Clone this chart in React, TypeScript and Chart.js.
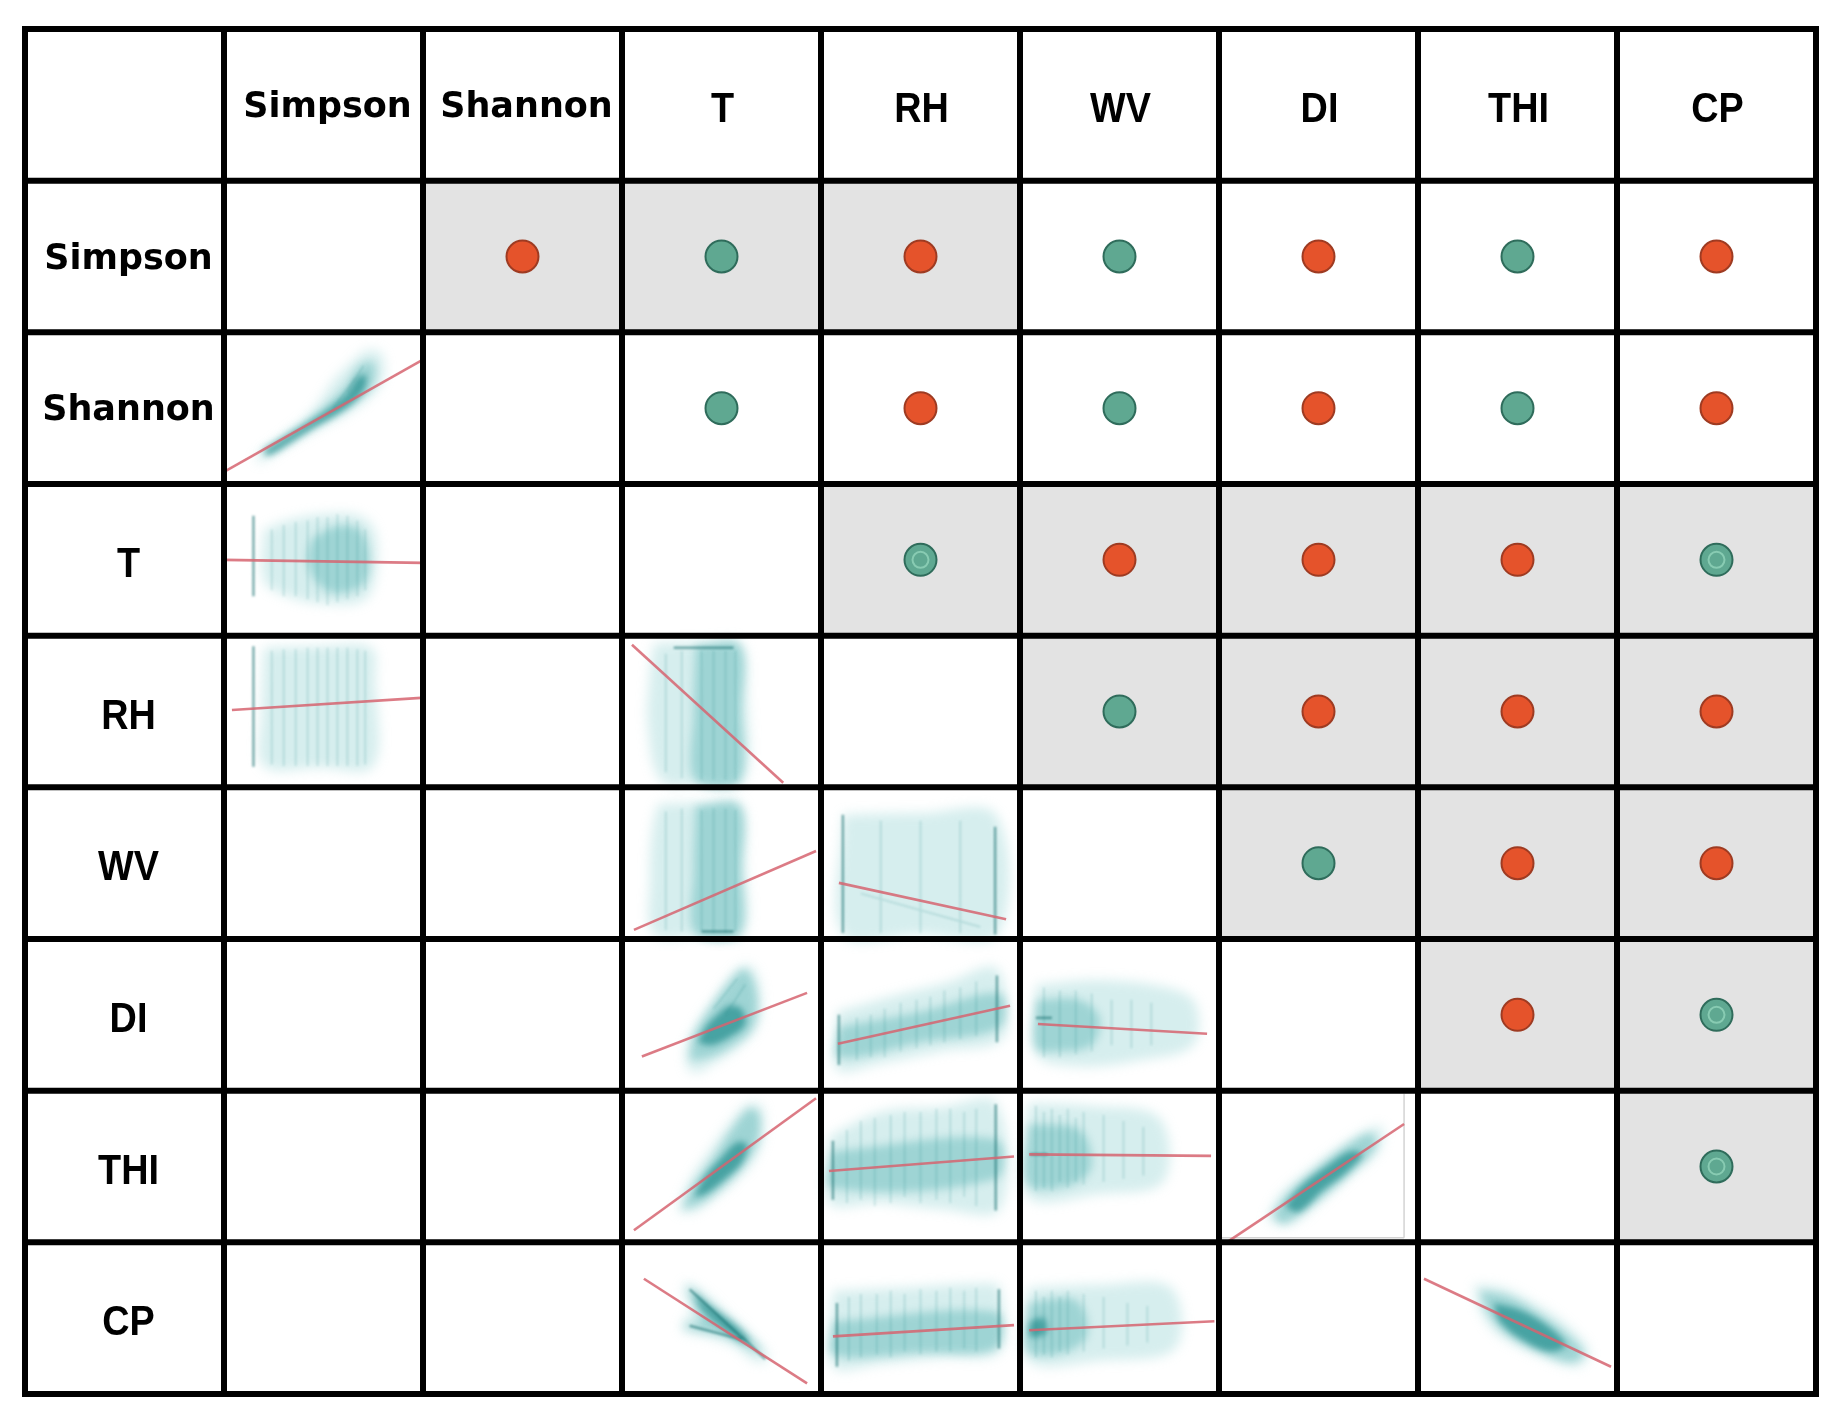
import React, { useEffect, useRef } from "react";
import { Chart, registerables } from "chart.js";

// ---------- data ----------
const VARIABLES = ["Simpson", "Shannon", "T", "RH", "WV", "DI", "THI", "CP"];

// Upper triangle: sign of the correlation (+1 = orange, -1 = teal), row i vs columns i+1..7
const SIGN_ROWS = [
  [1, -1, 1, -1, 1, -1, 1],
  [-1, 1, -1, 1, -1, 1],
  [-1, 1, 1, 1, -1],
  [-1, 1, 1, 1],
  [-1, 1, 1],
  [1, -1],
  [-1],
];

// Upper triangle: shaded (significant) cells, same layout as SIGN_ROWS
const SIGNIFICANT_ROWS = [
  [1, 1, 1, 0, 0, 0, 0],
  [0, 0, 0, 0, 0, 0],
  [1, 1, 1, 1, 1],
  [1, 1, 1, 1],
  [1, 1, 1],
  [1, 1],
  [1],
];

// Dots drawn with an inner ring
const RINGED_PAIRS = [
  ["T", "RH"],
  ["T", "CP"],
  ["DI", "CP"],
  ["THI", "CP"],
];

// Lower triangle scatter panels, local cell coordinates (u across, v down, 0..1)
const P_SHANNON_SIMPSON = {
  row: "Shannon", col: "Simpson",
  fit: [[0, 0.92], [1, 0.18]],
  haze: [[0.16, 0.82], [0.26, 0.72], [0.4, 0.58], [0.48, 0.46], [0.55, 0.32], [0.64, 0.2], [0.72, 0.12], [0.79, 0.14], [0.8, 0.3], [0.72, 0.44], [0.6, 0.55], [0.45, 0.65], [0.3, 0.76], [0.18, 0.86]],
  body: [[0.18, 0.79], [0.32, 0.67], [0.44, 0.56], [0.54, 0.45], [0.62, 0.34], [0.68, 0.22], [0.75, 0.2], [0.75, 0.34], [0.66, 0.46], [0.54, 0.56], [0.4, 0.67], [0.24, 0.8]],
  core: [[0.2, 0.78], [0.32, 0.68], [0.44, 0.58], [0.54, 0.49], [0.62, 0.4], [0.67, 0.3], [0.71, 0.28], [0.71, 0.36], [0.66, 0.45], [0.58, 0.53], [0.46, 0.62], [0.34, 0.72], [0.22, 0.81]],
  marks: [],
  streaks: [[0.62, 0.4, 0.7, 0.22], [0.55, 0.5, 0.66, 0.3]],
};
const P_T_SIMPSON = {
  row: "T", col: "Simpson",
  fit: [[0, 0.5], [1, 0.52]],
  haze: [[0.2, 0.3], [0.32, 0.24], [0.5, 0.2], [0.68, 0.21], [0.76, 0.32], [0.76, 0.62], [0.7, 0.77], [0.5, 0.79], [0.32, 0.74], [0.2, 0.64]],
  body: [[0.44, 0.36], [0.56, 0.28], [0.68, 0.3], [0.73, 0.48], [0.7, 0.66], [0.56, 0.72], [0.46, 0.64], [0.42, 0.5]],
  core: [],
  marks: [[0.148, 0.21, 0.148, 0.74]],
  streaks: [[0.24, 0.3, 0.24, 0.7], [0.3, 0.27, 0.3, 0.74], [0.36, 0.25, 0.36, 0.74], [0.42, 0.24, 0.42, 0.76], [0.47, 0.22, 0.47, 0.78], [0.52, 0.22, 0.52, 0.8], [0.57, 0.2, 0.57, 0.78], [0.62, 0.21, 0.62, 0.76], [0.67, 0.24, 0.67, 0.74], [0.71, 0.3, 0.71, 0.7]],
};
const P_RH_SIMPSON = {
  row: "RH", col: "Simpson",
  fit: [[0.04, 0.49], [0.99, 0.41]],
  haze: [[0.2, 0.08], [0.48, 0.07], [0.74, 0.08], [0.76, 0.3], [0.75, 0.86], [0.48, 0.87], [0.2, 0.86], [0.19, 0.5]],
  body: [],
  core: [],
  marks: [[0.148, 0.07, 0.148, 0.865]],
  streaks: [[0.24, 0.1, 0.24, 0.85], [0.3, 0.09, 0.3, 0.86], [0.36, 0.09, 0.36, 0.86], [0.42, 0.08, 0.42, 0.86], [0.47, 0.08, 0.47, 0.86], [0.52, 0.08, 0.52, 0.86], [0.57, 0.08, 0.57, 0.86], [0.62, 0.08, 0.62, 0.86], [0.67, 0.09, 0.67, 0.86], [0.71, 0.1, 0.71, 0.85]],
};
const P_RH_T = {
  row: "RH", col: "T",
  fit: [[0.05, 0.06], [0.81, 0.97]],
  haze: [[0.16, 0.05], [0.4, 0.04], [0.6, 0.05], [0.63, 0.4], [0.61, 0.97], [0.4, 0.98], [0.2, 0.96], [0.13, 0.6], [0.14, 0.25]],
  body: [[0.37, 0.06], [0.59, 0.06], [0.6, 0.5], [0.59, 0.96], [0.37, 0.96], [0.36, 0.5]],
  core: [],
  marks: [[0.26, 0.08, 0.56, 0.08]],
  streaks: [[0.22, 0.12, 0.22, 0.9], [0.3, 0.1, 0.3, 0.94], [0.4, 0.1, 0.4, 0.95], [0.46, 0.1, 0.46, 0.95], [0.52, 0.1, 0.52, 0.95], [0.57, 0.1, 0.57, 0.95]],
};
const P_WV_T = {
  row: "WV", col: "T",
  fit: [[0.06, 0.94], [0.975, 0.42]],
  haze: [[0.18, 0.11], [0.4, 0.1], [0.6, 0.11], [0.62, 0.5], [0.61, 0.97], [0.4, 0.98], [0.16, 0.97], [0.14, 0.6], [0.15, 0.3]],
  body: [[0.37, 0.12], [0.59, 0.12], [0.6, 0.55], [0.59, 0.97], [0.37, 0.97], [0.36, 0.55]],
  core: [],
  marks: [[0.4, 0.95, 0.56, 0.95]],
  streaks: [[0.22, 0.16, 0.22, 0.94], [0.3, 0.14, 0.3, 0.95], [0.4, 0.15, 0.4, 0.95], [0.46, 0.14, 0.46, 0.96], [0.52, 0.14, 0.52, 0.96], [0.57, 0.15, 0.57, 0.95]],
};
const P_WV_RH = {
  row: "WV", col: "RH",
  fit: [[0.09, 0.63], [0.93, 0.87]],
  haze: [[0.11, 0.18], [0.5, 0.17], [0.88, 0.18], [0.89, 0.97], [0.5, 0.97], [0.11, 0.97]],
  body: [],
  core: [],
  marks: [[0.11, 0.18, 0.11, 0.96], [0.875, 0.26, 0.875, 0.97]],
  streaks: [[0.3, 0.22, 0.3, 0.96], [0.5, 0.22, 0.5, 0.96], [0.7, 0.22, 0.7, 0.96], [0.2, 0.7, 0.8, 0.92]],
};
const P_DI_T = {
  row: "DI", col: "T",
  fit: [[0.1, 0.775], [0.93, 0.355]],
  haze: [[0.33, 0.86], [0.32, 0.72], [0.38, 0.55], [0.47, 0.38], [0.56, 0.22], [0.63, 0.17], [0.68, 0.24], [0.7, 0.45], [0.67, 0.6], [0.58, 0.72], [0.46, 0.82], [0.38, 0.88]],
  body: [[0.34, 0.8], [0.36, 0.64], [0.44, 0.46], [0.53, 0.3], [0.61, 0.2], [0.66, 0.28], [0.68, 0.46], [0.65, 0.6], [0.56, 0.7], [0.44, 0.78]],
  core: [[0.38, 0.68], [0.42, 0.58], [0.48, 0.5], [0.54, 0.44], [0.6, 0.46], [0.62, 0.56], [0.55, 0.64], [0.45, 0.7]],
  marks: [],
  streaks: [[0.46, 0.46, 0.58, 0.26], [0.52, 0.5, 0.62, 0.3]],
};
const P_DI_RH = {
  row: "DI", col: "RH",
  fit: [[0.085, 0.69], [0.95, 0.44]],
  haze: [[0.08, 0.48], [0.35, 0.38], [0.65, 0.28], [0.86, 0.18], [0.92, 0.3], [0.91, 0.66], [0.6, 0.74], [0.3, 0.82], [0.08, 0.86]],
  body: [[0.09, 0.58], [0.5, 0.48], [0.9, 0.36], [0.9, 0.58], [0.5, 0.68], [0.09, 0.78]],
  core: [],
  marks: [[0.884, 0.24, 0.884, 0.68], [0.09, 0.5, 0.09, 0.83]],
  streaks: [[0.18, 0.52, 0.18, 0.8], [0.25, 0.5, 0.25, 0.78], [0.32, 0.46, 0.32, 0.78], [0.4, 0.42, 0.4, 0.74], [0.48, 0.4, 0.48, 0.72], [0.55, 0.38, 0.55, 0.7], [0.62, 0.34, 0.62, 0.68], [0.7, 0.32, 0.7, 0.66], [0.78, 0.28, 0.78, 0.64]],
};
const P_DI_WV = {
  row: "DI", col: "WV",
  fit: [[0.09, 0.56], [0.94, 0.625]],
  haze: [[0.08, 0.3], [0.4, 0.27], [0.74, 0.32], [0.88, 0.42], [0.87, 0.7], [0.6, 0.8], [0.3, 0.84], [0.08, 0.76]],
  body: [[0.08, 0.4], [0.3, 0.4], [0.4, 0.52], [0.36, 0.7], [0.2, 0.74], [0.08, 0.72]],
  core: [],
  marks: [[0.08, 0.52, 0.16, 0.52]],
  streaks: [[0.12, 0.32, 0.12, 0.78], [0.2, 0.34, 0.2, 0.78], [0.28, 0.34, 0.28, 0.76], [0.36, 0.36, 0.36, 0.74], [0.46, 0.4, 0.46, 0.7], [0.56, 0.4, 0.56, 0.72], [0.66, 0.42, 0.66, 0.7]],
};
const P_THI_T = {
  row: "THI", col: "T",
  fit: [[0.06, 0.92], [0.975, 0.05]],
  haze: [[0.28, 0.8], [0.33, 0.62], [0.44, 0.4], [0.55, 0.2], [0.63, 0.09], [0.7, 0.1], [0.71, 0.3], [0.66, 0.46], [0.58, 0.58], [0.47, 0.7], [0.36, 0.8]],
  body: [[0.3, 0.78], [0.36, 0.62], [0.46, 0.44], [0.56, 0.24], [0.64, 0.12], [0.69, 0.16], [0.68, 0.34], [0.62, 0.48], [0.52, 0.62], [0.4, 0.74]],
  core: [[0.36, 0.7], [0.42, 0.56], [0.5, 0.44], [0.58, 0.34], [0.63, 0.36], [0.6, 0.48], [0.52, 0.58], [0.42, 0.68]],
  marks: [],
  streaks: [],
};
const P_THI_RH = {
  row: "THI", col: "RH",
  fit: [[0.04, 0.53], [0.97, 0.434]],
  haze: [[0.04, 0.3], [0.3, 0.14], [0.6, 0.11], [0.88, 0.08], [0.9, 0.78], [0.6, 0.78], [0.3, 0.74], [0.04, 0.74]],
  body: [[0.05, 0.4], [0.88, 0.32], [0.88, 0.58], [0.05, 0.64]],
  core: [],
  marks: [[0.06, 0.33, 0.06, 0.72], [0.878, 0.09, 0.878, 0.79]],
  streaks: [[0.13, 0.26, 0.13, 0.74], [0.2, 0.2, 0.2, 0.72], [0.27, 0.18, 0.27, 0.76], [0.35, 0.16, 0.35, 0.74], [0.42, 0.14, 0.42, 0.7], [0.5, 0.14, 0.5, 0.74], [0.58, 0.12, 0.58, 0.72], [0.65, 0.12, 0.65, 0.74], [0.72, 0.14, 0.72, 0.7], [0.78, 0.12, 0.78, 0.76]],
};
const P_THI_WV = {
  row: "THI", col: "WV",
  fit: [[0.046, 0.42], [0.96, 0.43]],
  haze: [[0.04, 0.08], [0.35, 0.1], [0.7, 0.18], [0.72, 0.6], [0.4, 0.68], [0.04, 0.7]],
  body: [[0.04, 0.22], [0.3, 0.26], [0.36, 0.5], [0.26, 0.62], [0.04, 0.62]],
  core: [],
  marks: [[0.05, 0.42, 0.14, 0.42]],
  streaks: [[0.08, 0.1, 0.08, 0.66], [0.12, 0.14, 0.12, 0.64], [0.16, 0.12, 0.16, 0.66], [0.2, 0.16, 0.2, 0.6], [0.24, 0.12, 0.24, 0.64], [0.28, 0.18, 0.28, 0.6], [0.32, 0.14, 0.32, 0.62], [0.42, 0.16, 0.42, 0.6], [0.52, 0.2, 0.52, 0.58], [0.62, 0.24, 0.62, 0.56]],
};
const P_THI_DI = {
  row: "THI", col: "DI",
  fit: [[0.05, 0.99], [0.93, 0.22]],
  haze: [[0.24, 0.86], [0.3, 0.7], [0.44, 0.54], [0.6, 0.38], [0.74, 0.26], [0.82, 0.24], [0.8, 0.4], [0.66, 0.56], [0.52, 0.72], [0.36, 0.88]],
  body: [[0.27, 0.82], [0.36, 0.66], [0.5, 0.5], [0.64, 0.36], [0.76, 0.28], [0.79, 0.36], [0.7, 0.5], [0.56, 0.66], [0.42, 0.8], [0.32, 0.88]],
  core: [[0.33, 0.76], [0.42, 0.62], [0.54, 0.5], [0.66, 0.4], [0.72, 0.42], [0.64, 0.54], [0.52, 0.66], [0.4, 0.8]],
  marks: [],
  streaks: [],
  frame: [[0.93, 0.02, 0.93, 0.97], [0.0, 0.97, 0.93, 0.97]],
};
const P_CP_T = {
  row: "CP", col: "T",
  fit: [[0.11, 0.24], [0.93, 0.93]],
  haze: [[0.32, 0.26], [0.4, 0.32], [0.52, 0.46], [0.64, 0.6], [0.74, 0.76], [0.68, 0.79], [0.56, 0.68], [0.42, 0.62], [0.3, 0.58], [0.32, 0.5], [0.36, 0.44], [0.31, 0.34]],
  body: [[0.33, 0.28], [0.42, 0.38], [0.54, 0.5], [0.64, 0.62], [0.7, 0.72], [0.64, 0.7], [0.52, 0.62], [0.38, 0.58], [0.31, 0.55], [0.4, 0.52], [0.36, 0.42]],
  core: [[0.36, 0.33], [0.46, 0.44], [0.58, 0.56], [0.64, 0.66], [0.58, 0.64], [0.48, 0.54], [0.4, 0.44]],
  marks: [[0.34, 0.31, 0.62, 0.65], [0.34, 0.55, 0.6, 0.64], [0.6, 0.62, 0.72, 0.77]],
  streaks: [],
};
const P_CP_RH = {
  row: "CP", col: "RH",
  fit: [[0.06, 0.62], [0.97, 0.546]],
  haze: [[0.06, 0.32], [0.4, 0.3], [0.85, 0.27], [0.9, 0.3], [0.9, 0.72], [0.6, 0.76], [0.3, 0.8], [0.06, 0.82]],
  body: [[0.06, 0.52], [0.88, 0.46], [0.88, 0.7], [0.5, 0.73], [0.06, 0.74]],
  core: [],
  marks: [[0.894, 0.31, 0.894, 0.7], [0.08, 0.4, 0.08, 0.82]],
  streaks: [[0.14, 0.36, 0.14, 0.78], [0.2, 0.34, 0.2, 0.76], [0.28, 0.34, 0.28, 0.74], [0.35, 0.32, 0.35, 0.76], [0.42, 0.34, 0.42, 0.72], [0.5, 0.31, 0.5, 0.74], [0.58, 0.32, 0.58, 0.72], [0.65, 0.3, 0.65, 0.72], [0.72, 0.32, 0.72, 0.7], [0.78, 0.3, 0.78, 0.72]],
};
const P_CP_WV = {
  row: "CP", col: "WV",
  fit: [[0.046, 0.58], [0.977, 0.52]],
  haze: [[0.04, 0.3], [0.4, 0.28], [0.76, 0.3], [0.78, 0.7], [0.4, 0.78], [0.04, 0.78]],
  body: [[0.04, 0.4], [0.28, 0.38], [0.34, 0.6], [0.24, 0.72], [0.04, 0.72]],
  core: [[0.05, 0.52], [0.12, 0.5], [0.13, 0.6], [0.05, 0.62]],
  marks: [],
  streaks: [[0.08, 0.32, 0.08, 0.76], [0.12, 0.36, 0.12, 0.74], [0.16, 0.32, 0.16, 0.76], [0.2, 0.36, 0.2, 0.72], [0.24, 0.32, 0.24, 0.74], [0.32, 0.34, 0.32, 0.72], [0.42, 0.36, 0.42, 0.7], [0.54, 0.4, 0.54, 0.68], [0.64, 0.42, 0.64, 0.66]],
};
const P_CP_THI = {
  row: "CP", col: "THI",
  fit: [[0.03, 0.24], [0.97, 0.82]],
  haze: [[0.28, 0.28], [0.42, 0.3], [0.58, 0.4], [0.74, 0.54], [0.86, 0.72], [0.8, 0.82], [0.64, 0.76], [0.5, 0.68], [0.38, 0.58], [0.31, 0.44]],
  body: [[0.31, 0.32], [0.46, 0.36], [0.62, 0.48], [0.76, 0.62], [0.83, 0.74], [0.76, 0.79], [0.6, 0.72], [0.46, 0.62], [0.36, 0.48]],
  core: [[0.38, 0.4], [0.52, 0.45], [0.66, 0.56], [0.74, 0.68], [0.66, 0.72], [0.52, 0.64], [0.41, 0.52]],
  marks: [],
  streaks: [],
};

const PANELS: any[] = [
  P_SHANNON_SIMPSON, P_T_SIMPSON, P_RH_SIMPSON, P_RH_T, P_WV_T, P_WV_RH,
  P_DI_T, P_DI_RH, P_DI_WV, P_THI_T, P_THI_RH, P_THI_WV, P_THI_DI,
  P_CP_T, P_CP_RH, P_CP_WV, P_CP_THI,
];

// ---------- styles ----------
const GRID_COLOR = "#000000";
const SHADE_COLOR = "#E3E3E3";
const POS_FILL = "#E5532B";
const POS_BORDER = "#9E3B22";
const NEG_FILL = "#5FA891";
const NEG_BORDER = "#2F6C5B";

// blur plugin (registered first so it wraps the filler's drawing)
const cloudBlurPlugin: any = {
  id: "cloudBlur",
  beforeDatasetDraw(chart: any, args: any) {
    const ds = chart.data.datasets[args.index];
    chart.ctx.save();
    if (ds && ds.blur) chart.ctx.filter = `blur(${ds.blur}px)`;
  },
  afterDatasetDraw(chart: any) {
    chart.ctx.restore();
  },
};
Chart.register(cloudBlurPlugin, ...registerables);

const colIndex = (name: string) => VARIABLES.indexOf(name) + 1;

function buildDatasets() {
  const ds: any[] = [];
  for (const p of PANELS) {
    const c = colIndex(p.col);
    const r = colIndex(p.row);
    const toXY = (pt: number[]) => ({ x: c + pt[0], y: r + pt[1] });
    const poly = (pts: number[][], color: string, blur: number, order: number) => {
      if (!pts.length) return;
      ds.push({
        type: "line",
        data: [...pts, pts[0]].map(toXY),
        fill: "shape",
        backgroundColor: color,
        borderWidth: 0,
        borderColor: "rgba(0,0,0,0)",
        pointRadius: 0,
        tension: 0.35,
        blur,
        order,
      });
    };
    const segs = (list: number[][], color: string, width: number, blur: number, order: number) => {
      if (!list || !list.length) return;
      const data: any[] = [];
      list.forEach((s) => {
        data.push({ x: c + s[0], y: r + s[1] });
        data.push({ x: c + s[2], y: r + s[3] });
        data.push({ x: NaN, y: NaN });
      });
      ds.push({
        type: "line",
        data,
        borderColor: color,
        borderWidth: width,
        pointRadius: 0,
        fill: false,
        spanGaps: false,
        tension: 0,
        blur,
        order,
      });
    };
    poly(p.haze, "rgba(120,200,200,0.3)", 6, 60);
    poly(p.body, "rgba(45,160,160,0.33)", 4, 50);
    poly(p.core, "rgba(0,122,122,0.55)", 3, 40);
    segs(p.streaks, "rgba(40,140,140,0.2)", 1.8, 1.2, 35);
    segs(p.marks, "rgba(20,110,110,0.55)", 2.5, 1.2, 30);
    segs(p.frame, "rgba(200,200,200,0.8)", 1.5, 0, 28);
    ds.push({
      type: "line",
      data: p.fit.map(toXY),
      borderColor: "rgba(214,100,112,0.85)",
      borderWidth: 2.6,
      pointRadius: 0,
      fill: false,
      order: 20,
    });
  }

  const pos: any[] = [];
  const neg: any[] = [];
  SIGN_ROWS.forEach((row, i) =>
    row.forEach((s, k) => {
      const pt = { x: i + 2 + k + 0.5, y: i + 1 + 0.5 };
      (s > 0 ? pos : neg).push(pt);
    })
  );
  const ringed = RINGED_PAIRS.map(([a, b]) => ({ x: colIndex(b) + 0.5, y: colIndex(a) + 0.5 }));

  ds.push({
    type: "scatter", data: pos, pointRadius: 16, pointBackgroundColor: POS_FILL,
    pointBorderColor: POS_BORDER, pointBorderWidth: 2, order: 5,
  });
  ds.push({
    type: "scatter", data: neg, pointRadius: 16, pointBackgroundColor: NEG_FILL,
    pointBorderColor: NEG_BORDER, pointBorderWidth: 2, order: 5,
  });
  ds.push({
    type: "scatter", data: ringed, pointRadius: 8, pointBackgroundColor: "rgba(0,0,0,0)",
    pointBorderColor: "rgba(150,215,190,0.75)", pointBorderWidth: 2, order: 1,
  });
  return ds;
}

const tablePlugin: any = {
  id: "corrTable",
  beforeDraw(chart: any) {
    const ctx = chart.ctx;
    ctx.save();
    ctx.fillStyle = "#ffffff";
    ctx.fillRect(0, 0, chart.width, chart.height);
    ctx.restore();
  },
  beforeDatasetsDraw(chart: any) {
    const { ctx, scales } = chart;
    const px = (v: number) => scales.x.getPixelForValue(v);
    const py = (v: number) => scales.y.getPixelForValue(v);
    ctx.save();
    ctx.fillStyle = SHADE_COLOR;
    SIGNIFICANT_ROWS.forEach((row, i) =>
      row.forEach((s, k) => {
        if (!s) return;
        const c = i + 2 + k;
        const r = i + 1;
        ctx.fillRect(px(c), py(r), px(c + 1) - px(c), py(r + 1) - py(r));
      })
    );
    ctx.restore();
  },
  afterDatasetsDraw(chart: any) {
    const { ctx, scales } = chart;
    const px = (v: number) => scales.x.getPixelForValue(v);
    const py = (v: number) => scales.y.getPixelForValue(v);
    const n = VARIABLES.length + 1;
    ctx.save();
    ctx.strokeStyle = GRID_COLOR;
    ctx.lineWidth = 6;
    ctx.lineCap = "square";
    for (let k = 0; k <= n; k++) {
      ctx.beginPath();
      ctx.moveTo(px(k), py(0));
      ctx.lineTo(px(k), py(n));
      ctx.stroke();
      ctx.beginPath();
      ctx.moveTo(px(0), py(k));
      ctx.lineTo(px(n), py(k));
      ctx.stroke();
    }
    ctx.fillStyle = "#000";
    ctx.textAlign = "center";
    ctx.textBaseline = "alphabetic";
    const drawLabel = (text: string, cx: number, cy: number, isRow: boolean) => {
      const wide = text === "Simpson" || text === "Shannon";
      ctx.save();
      if (wide) {
        ctx.font = 'bold 35px "DejaVu Sans"';
        ctx.translate(cx + 4, cy + 12);
        ctx.fillText(text, 0, 0);
      } else {
        ctx.font = 'bold 42px "Liberation Sans"';
        ctx.translate(cx + (isRow ? 4 : 1), cy + 17);
        ctx.scale(0.9, 1);
        ctx.fillText(text, 0, 0);
      }
      ctx.restore();
    };
    VARIABLES.forEach((v, i) => {
      const c = i + 1;
      drawLabel(v, (px(c) + px(c + 1)) / 2, (py(0) + py(1)) / 2, false);
      drawLabel(v, (px(0) + px(1)) / 2, (py(c) + py(c + 1)) / 2, true);
    });
    ctx.restore();
  },
};

export default function App() {
  const ref = useRef<HTMLCanvasElement | null>(null);
  useEffect(() => {
    if (!ref.current) return;
    const chart = new Chart(ref.current, {
      type: "scatter",
      data: { datasets: buildDatasets() },
      options: {
        animation: false,
        responsive: false,
        maintainAspectRatio: false,
        devicePixelRatio: 1,
        events: [],
        layout: { padding: { left: 25, top: 29, right: 22, bottom: 25 } },
        scales: {
          x: { type: "linear", min: 0, max: 9, display: false },
          y: { type: "linear", min: 0, max: 9, reverse: true, display: false },
        },
        plugins: { legend: { display: false }, tooltip: { enabled: false } },
      } as any,
      plugins: [tablePlugin],
    } as any);
    return () => chart.destroy();
  }, []);
  return (
    <div style={{ position: "absolute", left: 0, top: 0, width: 1838, height: 1419, background: "#fff" }}>
      <canvas ref={ref} width={1838} height={1419} style={{ display: "block", width: 1838, height: 1419 }} />
    </div>
  );
}
